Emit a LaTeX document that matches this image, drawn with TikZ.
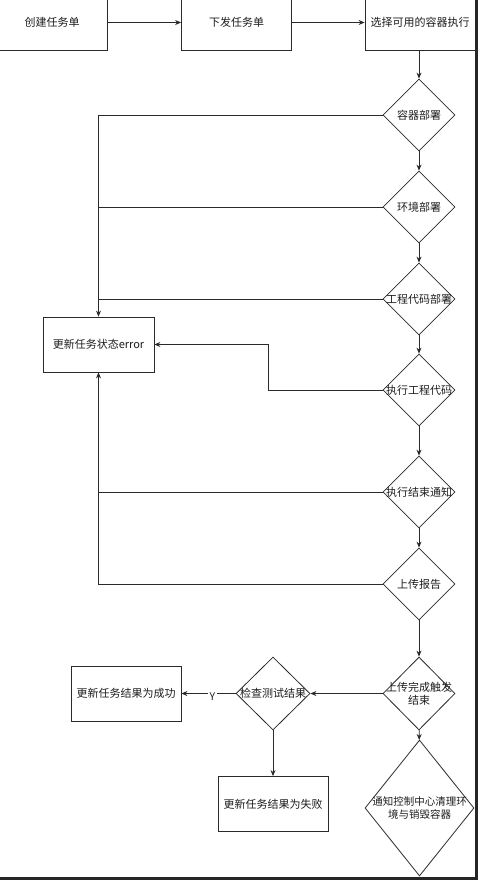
\documentclass[tikz,border=0pt]{standalone}
\usepackage{fontspec}
\setmainfont{Noto Sans CJK SC}
\usetikzlibrary{shapes.geometric,arrows.meta}
\definecolor{linec}{HTML}{2A2A2A}
\definecolor{txtc}{HTML}{1E1E1E}
\definecolor{barc}{HTML}{262626}
\tikzset{
  box/.style={draw=linec, line width=0.8pt, fill=white, minimum width=110pt, minimum height=55pt, inner sep=0pt, font=\fontsize{11}{13}\selectfont, text=txtc},
  dia/.style={shape=diamond, draw=linec, line width=0.8pt, fill=white, minimum width=72pt, minimum height=72pt, inner sep=0pt},
  dtxt/.style={font=\fontsize{11}{13}\selectfont, text=txtc, inner sep=0pt, align=center},
  conn/.style={draw=linec, line width=0.8pt},
  arr/.style={conn, -{Stealth[length=6pt,width=5pt]}},
}
\begin{document}
\begin{tikzpicture}[x=1pt,y=-1pt]
\useasboundingbox (0,0) rectangle (478,880);
\fill[white] (0,0) rectangle (478,880);
% top boxes
\node[box] (b1) at (52,22.5) {创建任务单};
\node[box] (b2) at (236.5,22.5) {下发任务单};
\node[box] (b3) at (420,22.5) {选择可用的容器执行};
% decisions
\node[dia, label={[dtxt]center:容器部署}] (d1) at (419,115) {};
\node[dia, label={[dtxt]center:环境部署}] (d2) at (419,207) {};
\node[dia, label={[dtxt]center:工程代码部署}] (d3) at (419,299) {};
\node[dia, label={[dtxt]center:执行工程代码}] (d4) at (419,390) {};
\node[dia, label={[dtxt]center:执行结束通知}] (d5) at (419,492) {};
\node[dia, label={[dtxt]center:上传报告}] (d6) at (419,584) {};
\node[dia, minimum height=73pt, label={[dtxt]center:上传完成触发\\结束}] (d7) at (419,693.5) {};
\node[dia, minimum width=109pt, minimum height=136pt, label={[dtxt,font=\fontsize{10.5}{12.5}\selectfont]center:通知控制中心清理环\\境与销毁容器}] (d8) at (419.5,808) {};
\node[dia, minimum width=74pt, minimum height=73pt, label={[dtxt]center:检查测试结果}] (chk) at (273,693.5) {};
% other boxes
\node[box, minimum width=111pt] (err) at (98.5,344.5) {更新任务状态error};
\node[box] (ok) at (126,693.5) {更新任务结果为成功};
\node[box] (fail) at (273,804) {更新任务结果为失败};
% main flow
\draw[arr] (b1) -- (b2);
\draw[arr] (b2) -- (b3);
\draw[arr] (b3.south -| d1.north) -- (d1.north);
\draw[arr] (d1) -- (d2);
\draw[arr] (d2) -- (d3);
\draw[arr] (d3) -- (d4);
\draw[arr] (d4) -- (d5);
\draw[arr] (d5) -- (d6);
\draw[arr] (d6) -- (d7);
\draw[arr] (d7) -- (d8);
% error branches
\draw[arr] (d1.west) -| (err.north);
\draw[conn] (d2.west) -- (d2.west -| err.north);
\draw[conn] (d3.west) -- (d3.west -| err.north);
\coordinate (k4) at (268,390);
\draw[arr] (d4.west) -- (k4) |- (err.east);
\draw[conn] (d5.west) -- (d5.west -| err.south);
\draw[arr] (d6.west) -| (err.south);
% result checking
\draw[arr] (d7.west) -- (chk.east);
\draw[arr] (chk.west) -- node[pos=0.43, yshift=-3pt, fill=white, inner sep=1.5pt, text=txtc, font=\fontsize{10.5}{12}\selectfont] (ylab) {Y} (ok.east);
\draw[arr] (chk.south) -- (fail.north);
% dark frame edges
\fill[barc] (474.5,0) rectangle (478,880);
\fill[barc] (0,877) rectangle (478,880);
\end{tikzpicture}
\end{document}
